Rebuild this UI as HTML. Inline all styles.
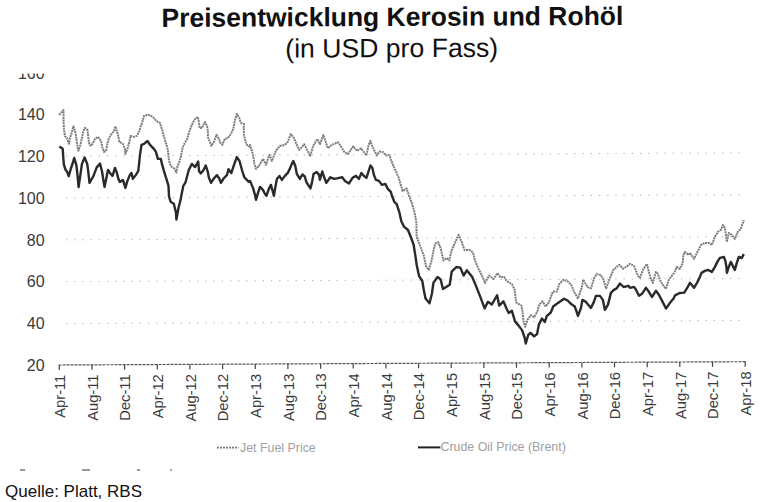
<!DOCTYPE html>
<html><head><meta charset="utf-8"><style>
html,body{margin:0;padding:0;background:#fff;width:760px;height:502px;overflow:hidden}
svg{position:absolute;left:0;top:0}
text{font-family:"Liberation Sans",sans-serif}
</style></head><body>
<svg width="760" height="502" viewBox="0 0 760 502">
<text transform="rotate(-0.25 392 17)" x="161.5" y="25.9" font-size="26.47" font-weight="bold" fill="#111">Preisentwicklung Kerosin und Rohöl</text>
<text transform="rotate(-0.25 392 48)" x="285.3" y="57.2" font-size="26.6" fill="#111">(in USD pro Fass)</text>
<line x1="66" y1="323.6" x2="740" y2="320.4" stroke="#999" stroke-width="1" stroke-dasharray="1.2 7" opacity="0.8"/>
<line x1="66" y1="281.7" x2="740" y2="278.5" stroke="#999" stroke-width="1" stroke-dasharray="1.2 7" opacity="0.8"/>
<line x1="66" y1="239.9" x2="740" y2="236.6" stroke="#999" stroke-width="1" stroke-dasharray="1.2 7" opacity="0.8"/>
<line x1="66" y1="198.0" x2="740" y2="194.8" stroke="#999" stroke-width="1" stroke-dasharray="1.2 7" opacity="0.8"/>
<line x1="66" y1="156.1" x2="740" y2="152.9" stroke="#999" stroke-width="1" stroke-dasharray="1.2 7" opacity="0.8"/>
<line x1="58.5" y1="365.0" x2="745.5" y2="361.7" stroke="#555" stroke-width="1.2" stroke-dasharray="3 1"/>
<line x1="59.3" y1="365.0" x2="59.3" y2="370.0" stroke="#444" stroke-width="1.2"/>
<text transform="translate(65.1,374.7) rotate(-90)" text-anchor="end" font-size="14.7" fill="#3a3a3a">Apr-11</text>
<line x1="92.0" y1="364.8" x2="92.0" y2="369.8" stroke="#444" stroke-width="1.2"/>
<text transform="translate(97.8,374.5) rotate(-90)" text-anchor="end" font-size="14.7" fill="#3a3a3a">Aug-11</text>
<line x1="124.6" y1="364.7" x2="124.6" y2="369.7" stroke="#444" stroke-width="1.2"/>
<text transform="translate(130.4,374.4) rotate(-90)" text-anchor="end" font-size="14.7" fill="#3a3a3a">Dec-11</text>
<line x1="157.3" y1="364.5" x2="157.3" y2="369.5" stroke="#444" stroke-width="1.2"/>
<text transform="translate(163.1,374.2) rotate(-90)" text-anchor="end" font-size="14.7" fill="#3a3a3a">Apr-12</text>
<line x1="189.9" y1="364.4" x2="189.9" y2="369.4" stroke="#444" stroke-width="1.2"/>
<text transform="translate(195.7,374.1) rotate(-90)" text-anchor="end" font-size="14.7" fill="#3a3a3a">Aug-12</text>
<line x1="222.6" y1="364.2" x2="222.6" y2="369.2" stroke="#444" stroke-width="1.2"/>
<text transform="translate(228.4,373.9) rotate(-90)" text-anchor="end" font-size="14.7" fill="#3a3a3a">Dec-12</text>
<line x1="255.3" y1="364.1" x2="255.3" y2="369.1" stroke="#444" stroke-width="1.2"/>
<text transform="translate(261.1,373.8) rotate(-90)" text-anchor="end" font-size="14.7" fill="#3a3a3a">Apr-13</text>
<line x1="287.9" y1="363.9" x2="287.9" y2="368.9" stroke="#444" stroke-width="1.2"/>
<text transform="translate(293.7,373.6) rotate(-90)" text-anchor="end" font-size="14.7" fill="#3a3a3a">Aug-13</text>
<line x1="320.6" y1="363.7" x2="320.6" y2="368.7" stroke="#444" stroke-width="1.2"/>
<text transform="translate(326.4,373.4) rotate(-90)" text-anchor="end" font-size="14.7" fill="#3a3a3a">Dec-13</text>
<line x1="353.2" y1="363.6" x2="353.2" y2="368.6" stroke="#444" stroke-width="1.2"/>
<text transform="translate(359.0,373.3) rotate(-90)" text-anchor="end" font-size="14.7" fill="#3a3a3a">Apr-14</text>
<line x1="385.9" y1="363.4" x2="385.9" y2="368.4" stroke="#444" stroke-width="1.2"/>
<text transform="translate(391.7,373.1) rotate(-90)" text-anchor="end" font-size="14.7" fill="#3a3a3a">Aug-14</text>
<line x1="418.6" y1="363.3" x2="418.6" y2="368.3" stroke="#444" stroke-width="1.2"/>
<text transform="translate(424.4,373.0) rotate(-90)" text-anchor="end" font-size="14.7" fill="#3a3a3a">Dec-14</text>
<line x1="451.2" y1="363.1" x2="451.2" y2="368.1" stroke="#444" stroke-width="1.2"/>
<text transform="translate(457.0,372.8) rotate(-90)" text-anchor="end" font-size="14.7" fill="#3a3a3a">Apr-15</text>
<line x1="483.9" y1="363.0" x2="483.9" y2="368.0" stroke="#444" stroke-width="1.2"/>
<text transform="translate(489.7,372.7) rotate(-90)" text-anchor="end" font-size="14.7" fill="#3a3a3a">Aug-15</text>
<line x1="516.5" y1="362.8" x2="516.5" y2="367.8" stroke="#444" stroke-width="1.2"/>
<text transform="translate(522.3,372.5) rotate(-90)" text-anchor="end" font-size="14.7" fill="#3a3a3a">Dec-15</text>
<line x1="549.2" y1="362.6" x2="549.2" y2="367.6" stroke="#444" stroke-width="1.2"/>
<text transform="translate(555.0,372.3) rotate(-90)" text-anchor="end" font-size="14.7" fill="#3a3a3a">Apr-16</text>
<line x1="581.9" y1="362.5" x2="581.9" y2="367.5" stroke="#444" stroke-width="1.2"/>
<text transform="translate(587.7,372.2) rotate(-90)" text-anchor="end" font-size="14.7" fill="#3a3a3a">Aug-16</text>
<line x1="614.5" y1="362.3" x2="614.5" y2="367.3" stroke="#444" stroke-width="1.2"/>
<text transform="translate(620.3,372.0) rotate(-90)" text-anchor="end" font-size="14.7" fill="#3a3a3a">Dec-16</text>
<line x1="647.2" y1="362.2" x2="647.2" y2="367.2" stroke="#444" stroke-width="1.2"/>
<text transform="translate(653.0,371.9) rotate(-90)" text-anchor="end" font-size="14.7" fill="#3a3a3a">Apr-17</text>
<line x1="679.8" y1="362.0" x2="679.8" y2="367.0" stroke="#444" stroke-width="1.2"/>
<text transform="translate(685.6,371.7) rotate(-90)" text-anchor="end" font-size="14.7" fill="#3a3a3a">Aug-17</text>
<line x1="712.5" y1="361.9" x2="712.5" y2="366.9" stroke="#444" stroke-width="1.2"/>
<text transform="translate(718.3,371.6) rotate(-90)" text-anchor="end" font-size="14.7" fill="#3a3a3a">Dec-17</text>
<line x1="745.2" y1="361.7" x2="745.2" y2="366.7" stroke="#444" stroke-width="1.2"/>
<text transform="translate(751.0,371.4) rotate(-90)" text-anchor="end" font-size="14.7" fill="#3a3a3a">Apr-18</text>
<text x="44.6" y="371.1" text-anchor="end" font-size="16" fill="#3a3a3a">20</text>
<text x="44.6" y="329.2" text-anchor="end" font-size="16" fill="#3a3a3a">40</text>
<text x="44.6" y="287.4" text-anchor="end" font-size="16" fill="#3a3a3a">60</text>
<text x="44.6" y="245.5" text-anchor="end" font-size="16" fill="#3a3a3a">80</text>
<text x="44.6" y="203.6" text-anchor="end" font-size="16" fill="#3a3a3a">100</text>
<text x="44.6" y="161.7" text-anchor="end" font-size="16" fill="#3a3a3a">120</text>
<text x="44.6" y="119.9" text-anchor="end" font-size="16" fill="#3a3a3a">140</text>
<text x="44.6" y="79.2" text-anchor="end" font-size="16" fill="#3a3a3a">160</text>
<path d="M58.8,114.5 L60.0,114.0 L63.5,110.0 L63.5,120.0 L64.0,130.0 L65.0,136.0 L67.0,138.0 L69.0,143.8 L70.0,137.9 L71.4,133.9 L73.4,126.4 L74.9,130.9 L75.9,134.9 L76.9,142.8 L78.4,150.8 L80.4,144.8 L81.9,137.9 L83.4,130.9 L84.9,127.9 L87.4,129.9 L88.4,137.9 L89.4,144.8 L91.4,145.8 L95.0,138.9 L98.0,136.9 L101.0,140.9 L102.5,147.9 L104.0,151.9 L106.0,150.9 L107.5,142.9 L109.0,137.9 L111.5,133.9 L114.0,131.0 L115.4,126.4 L118.0,134.9 L119.4,141.9 L122.9,143.9 L124.9,148.9 L125.4,153.9 L127.4,148.9 L129.4,141.9 L130.4,135.9 L133.9,136.9 L136.9,135.9 L139.4,130.9 L140.9,125.9 L142.4,122.0 L143.9,116.0 L146.8,115.0 L149.3,115.0 L152.8,117.0 L156.4,120.9 L159.9,122.9 L161.9,128.9 L163.4,134.9 L164.9,139.9 L166.4,144.8 L167.9,149.8 L168.8,159.1 L170.0,163.9 L171.9,167.1 L174.7,168.7 L176.3,172.6 L177.5,166.3 L179.9,160.7 L181.5,153.5 L182.7,147.2 L184.7,143.2 L187.2,139.0 L189.8,129.9 L192.8,122.9 L195.8,117.9 L198.0,117.0 L199.0,122.9 L199.5,127.9 L202.0,127.9 L205.0,121.9 L207.0,125.9 L207.9,130.9 L207.9,136.9 L209.9,141.9 L211.4,145.8 L213.9,141.9 L216.4,134.9 L218.4,137.9 L220.4,142.8 L222.4,144.8 L224.9,138.9 L227.9,137.9 L230.9,133.9 L233.3,128.9 L234.8,120.9 L236.8,114.0 L239.3,118.0 L240.8,122.9 L243.8,123.9 L243.8,133.9 L244.8,138.9 L246.8,144.8 L249.8,146.8 L250.0,144.9 L252.0,150.9 L253.5,157.9 L254.5,164.8 L256.0,168.8 L259.0,165.8 L263.0,158.9 L266.0,164.8 L269.4,154.9 L271.9,160.9 L273.9,155.9 L275.9,150.9 L279.9,145.9 L284.9,144.9 L287.8,141.9 L290.8,134.0 L293.8,137.9 L296.8,144.9 L299.3,149.9 L304.2,144.2 L308.2,152.1 L310.1,156.0 L313.4,145.5 L317.4,139.0 L320.0,144.2 L323.3,135.0 L327.9,148.2 L331.8,144.9 L337.8,142.2 L340.0,145.0 L344.0,151.6 L347.9,154.2 L353.2,146.3 L357.1,150.9 L361.0,148.3 L366.3,155.5 L369.0,143.7 L370.3,141.0 L372.9,147.6 L376.8,155.5 L379.5,151.6 L383.4,152.2 L386.0,155.5 L389.3,154.9 L391.3,160.8 L394.0,167.4 L396.6,172.6 L398.7,177.9 L402.6,191.0 L406.6,188.4 L409.2,196.3 L411.8,202.9 L414.5,212.1 L416.4,222.6 L416.6,236.8 L419.7,244.7 L423.7,255.3 L426.3,267.1 L428.9,269.7 L431.6,260.5 L433.6,250.0 L435.5,243.4 L438.2,242.1 L440.8,248.7 L443.4,260.5 L446.7,257.9 L449.3,260.5 L451.3,251.3 L455.3,242.1 L458.6,234.9 L461.8,242.1 L464.5,250.0 L469.7,250.0 L473.0,252.6 L475.0,260.5 L478.9,269.7 L482.9,277.6 L484.9,283.0 L489.2,275.5 L493.4,279.0 L497.6,273.2 L500.3,277.1 L504.2,277.1 L506.8,281.1 L512.1,284.3 L514.7,290.0 L516.1,302.4 L521.4,305.6 L522.4,310.8 L523.5,321.4 L525.1,326.7 L527.7,319.3 L530.9,315.1 L534.1,317.2 L537.2,311.9 L539.3,304.5 L542.5,301.3 L545.7,306.6 L548.8,302.4 L552.9,291.6 L556.8,291.6 L559.5,283.7 L563.4,279.7 L567.4,281.1 L571.3,285.0 L573.9,291.6 L577.9,298.2 L581.8,287.6 L583.2,279.7 L587.6,287.1 L590.9,288.4 L594.2,277.9 L596.8,273.9 L600.8,275.3 L603.4,279.2 L606.1,288.4 L610.0,277.9 L613.3,270.0 L619.2,264.7 L623.2,268.7 L627.1,266.1 L630.0,263.9 L634.0,265.9 L636.0,270.9 L638.0,275.9 L640.0,277.9 L642.9,269.9 L646.9,263.9 L648.9,271.9 L650.9,278.9 L652.9,282.9 L655.9,271.9 L657.9,273.9 L659.9,279.9 L662.9,284.9 L665.9,288.8 L668.8,279.9 L671.8,275.9 L674.8,271.9 L676.8,266.9 L679.8,268.9 L682.8,262.9 L683.3,255.0 L684.8,252.0 L688.8,255.0 L690.0,252.8 L694.0,258.8 L697.0,252.8 L701.0,244.9 L704.9,242.9 L708.9,242.9 L711.9,244.9 L714.9,236.9 L717.9,231.9 L720.9,229.9 L722.9,225.0 L724.9,228.0 L725.9,234.9 L726.9,241.9 L728.8,232.9 L731.8,234.9 L734.8,238.9 L737.8,231.9 L740.8,228.9 L742.8,223.0 L743.8,220.0" fill="none" stroke="#7d7d7d" stroke-width="2" stroke-linejoin="round" stroke-dasharray="2 0.7"/>
<path d="M59.4,146.6 L62.7,148.8 L63.2,156.4 L63.8,164.1 L65.4,169.6 L67.1,171.8 L68.7,176.2 L70.9,168.5 L73.1,161.9 L74.2,158.1 L76.4,165.2 L77.5,175.1 L78.6,187.1 L80.2,176.2 L81.9,164.1 L84.6,157.5 L87.3,164.1 L88.4,172.9 L89.5,182.8 L93.4,176.2 L96.7,167.4 L100.0,163.6 L102.1,171.8 L103.5,180.9 L104.5,186.9 L106.0,179.9 L108.0,169.9 L110.0,172.9 L112.5,175.9 L115.0,167.9 L116.9,172.9 L118.4,178.9 L119.9,181.9 L122.9,179.9 L125.4,187.9 L127.4,180.9 L129.9,174.9 L131.4,172.9 L132.9,178.9 L135.9,174.9 L138.3,170.9 L140.0,154.9 L141.5,144.9 L144.0,143.9 L147.5,141.0 L150.0,144.9 L153.9,148.9 L155.9,151.9 L157.9,158.9 L160.9,158.9 L161.9,163.9 L163.9,170.8 L166.4,178.8 L168.5,185.8 L169.0,196.4 L170.6,201.7 L173.8,203.8 L175.9,212.2 L176.4,219.6 L178.5,208.0 L180.6,199.6 L183.3,185.8 L185.4,182.7 L188.7,170.3 L191.8,163.9 L195.0,167.1 L198.2,161.5 L199.0,171.0 L200.6,173.4 L203.0,171.0 L205.8,165.5 L207.8,171.8 L208.8,177.4 L211.0,182.9 L213.8,178.5 L217.0,175.2 L219.2,178.5 L220.9,182.9 L223.6,178.5 L226.9,175.2 L228.5,169.2 L231.3,173.0 L233.5,166.4 L236.8,157.1 L239.5,161.0 L242.2,170.8 L244.4,177.4 L248.8,181.8 L250.0,180.9 L253.0,187.9 L255.0,194.8 L256.0,199.8 L258.0,192.8 L260.0,186.9 L262.9,189.9 L264.9,193.8 L266.4,195.8 L268.9,188.9 L270.9,184.9 L272.9,191.9 L273.9,195.8 L275.4,186.9 L276.9,178.9 L279.4,175.9 L281.9,179.9 L284.9,175.9 L287.8,172.9 L289.8,168.9 L291.8,164.0 L293.3,161.0 L295.3,166.0 L296.8,173.9 L299.8,178.9 L302.4,174.5 L304.8,176.5 L306.4,182.1 L310.4,188.4 L311.9,182.9 L313.5,174.1 L316.7,172.1 L319.1,174.9 L319.9,179.7 L322.3,171.5 L323.9,176.5 L326.3,182.9 L330.3,177.3 L334.2,178.9 L338.2,178.1 L342.2,177.3 L345.0,180.9 L349.0,183.4 L352.5,177.9 L356.0,175.9 L359.0,178.9 L361.4,172.9 L363.9,175.9 L366.4,177.9 L368.4,171.9 L370.4,165.5 L372.4,167.9 L373.9,174.9 L375.9,179.9 L378.9,180.9 L381.9,184.9 L385.3,183.9 L387.8,188.9 L390.8,191.9 L392.3,196.8 L394.3,201.8 L396.7,204.2 L399.3,212.1 L401.3,221.3 L404.0,226.6 L408.0,230.0 L411.2,238.0 L413.5,244.3 L415.1,253.9 L416.7,265.0 L419.1,276.2 L422.3,281.0 L423.9,290.6 L425.5,298.5 L429.5,303.3 L431.9,293.7 L433.5,282.6 L437.5,277.0 L440.6,279.4 L443.0,289.0 L449.7,284.7 L451.7,271.6 L456.3,267.0 L460.3,267.6 L463.6,275.5 L466.8,270.3 L472.1,276.8 L476.1,286.1 L480.7,297.9 L484.6,308.4 L487.9,301.8 L491.8,304.5 L497.1,295.3 L499.2,305.6 L503.4,301.3 L506.6,308.7 L508.7,313.0 L511.9,310.8 L515.0,321.4 L518.6,325.6 L522.2,330.4 L524.6,337.6 L525.8,343.5 L528.1,335.2 L530.5,332.8 L534.1,336.4 L537.1,334.0 L538.9,324.4 L541.9,318.5 L544.9,322.0 L546.7,316.1 L550.8,312.5 L553.2,306.5 L558.0,302.9 L564.0,298.7 L567.6,300.5 L571.2,304.1 L574.7,306.5 L576.0,309.9 L578.0,315.9 L581.0,307.9 L582.4,299.9 L585.9,301.9 L590.9,307.9 L593.9,301.9 L595.9,295.9 L599.9,295.9 L602.9,299.9 L604.9,309.9 L607.9,304.9 L610.9,292.9 L613.9,289.9 L616.6,288.4 L620.0,283.5 L623.6,287.0 L628.4,285.8 L630.0,287.8 L634.0,286.9 L636.0,289.8 L639.0,295.8 L642.0,293.8 L645.9,287.8 L648.9,291.8 L651.9,297.0 L655.9,290.8 L658.9,294.8 L663.0,302.6 L666.0,308.5 L670.2,302.6 L673.6,298.5 L675.0,295.4 L679.7,293.0 L684.3,292.6 L687.9,286.6 L690.0,282.8 L694.0,287.8 L697.0,282.8 L699.5,277.9 L701.5,272.9 L704.9,270.9 L707.9,269.9 L711.9,271.9 L714.9,266.9 L717.9,260.9 L719.9,257.9 L723.9,257.0 L725.4,260.9 L726.4,266.9 L726.9,272.9 L728.8,266.9 L730.8,261.9 L732.8,265.9 L734.8,269.9 L736.8,262.9 L738.8,257.0 L741.8,258.0 L743.8,254.0" fill="none" stroke="#2a2a2a" stroke-width="2.4" stroke-linejoin="round"/>
<line x1="217" y1="447.6" x2="238.5" y2="447.6" stroke="#777" stroke-width="1.6" stroke-dasharray="2 1"/>
<text x="240" y="451.6" font-size="12.4" fill="#a0a0a0">Jet Fuel Price</text>
<line x1="418" y1="447.4" x2="440.3" y2="447.4" stroke="#222" stroke-width="2"/>
<text x="440.5" y="451.4" font-size="12.4" fill="#a0a0a0">Crude Oil Price (Brent)</text>
<line x1="20" y1="470" x2="25" y2="470" stroke="#555" stroke-width="1.2"/>
<line x1="82" y1="470" x2="90" y2="470" stroke="#555" stroke-width="1.2"/>
<line x1="137" y1="470" x2="140" y2="470" stroke="#555" stroke-width="1.2"/>
<line x1="170" y1="470" x2="172" y2="470" stroke="#555" stroke-width="1.2"/>
<rect x="0" y="60" width="58" height="13.6" fill="#fff"/>
<text x="5" y="497" font-size="17" fill="#111">Quelle: Platt, RBS</text>
</svg>
</body></html>
